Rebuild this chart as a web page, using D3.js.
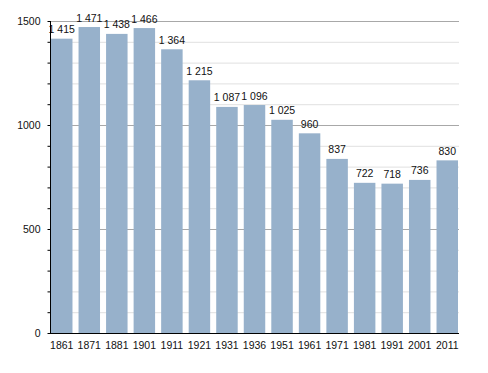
<!DOCTYPE html>
<html><head><meta charset="utf-8">
<script src="https://cdn.jsdelivr.net/npm/d3@7"></script>
<style>body{margin:0;background:#fff}svg{display:block}text{font-family:"Liberation Sans",Arial,sans-serif}</style>
</head><body><svg id="c" width="488" height="373"></svg>
<script>
const years = ["1861","1871","1881","1901","1911","1921","1931","1936","1951","1961","1971","1981","1991","2001","2011"];
const population = [1415,1471,1438,1466,1364,1215,1087,1096,1025,960,837,722,718,736,830];
const yTicks = [0,500,1000,1500];

const svg = d3.select("#c");
const x = d3.scaleBand().domain(years).range([51,458]).paddingInner(0.22).paddingOuter(0);
const y = d3.scaleLinear().domain([0,1500]).range([333,21]);
const minor = d3.range(100,1500,100).filter(v=>v%500!==0);

svg.append("g").selectAll("line").data(minor).join("line")
  .attr("x1",50).attr("x2",459).attr("y1",d=>y(d)+0.5).attr("y2",d=>y(d)+0.5)
  .attr("stroke","#e0e0e0").attr("stroke-width",1);
svg.append("g").selectAll("line").data([500,1000,1500]).join("line")
  .attr("x1",50).attr("x2",459).attr("y1",d=>y(d)+0.5).attr("y2",d=>y(d)+0.5)
  .attr("stroke","#a8a8a8").attr("stroke-width",1);

svg.append("g").selectAll("rect").data(population).join("rect")
  .attr("x",(d,i)=>x(years[i])).attr("width",x.bandwidth())
  .attr("y",d=>y(d)).attr("height",d=>y(0)-y(d)).attr("fill","#97b1cb");

const fmt = v => { const s = String(v); return s.length>3 ? s.slice(0,-3)+" "+s.slice(-3) : s; };
svg.append("g").selectAll("text").data(population).join("text")
  .attr("x",(d,i)=>x(years[i])+x.bandwidth()/2).attr("y",d=>y(d)-5.5)
  .attr("text-anchor","middle").attr("font-size",10.5).attr("fill","#111")
  .attr("xml:space","preserve").style("white-space","pre")
  .text(d=>fmt(d));

// y axis
const ya = d3.axisLeft(y).tickValues(d3.range(0,1501,100)).tickSize(3)
  .tickFormat(d=>yTicks.includes(d)?d:"");
const gy = svg.append("g").attr("transform","translate(50.5,0)").call(ya);
gy.select(".domain").attr("stroke","#000").attr("d","M0,"+y(1500)+"V"+(y(0)+0.5));
gy.selectAll("text").attr("font-size",10.5).attr("fill","#111").attr("font-family","Liberation Sans, Arial, sans-serif").attr("dx",-4);
gy.selectAll(".tick line").attr("stroke","#000");

// x axis
const xa = d3.axisBottom(x).tickSize(0);
const gx = svg.append("g").attr("transform","translate(0,333.5)").call(xa);
gx.select(".domain").attr("stroke","#000").attr("d","M50,0H459");
gx.selectAll("text").attr("font-size",10.5).attr("fill","#111").attr("font-family","Liberation Sans, Arial, sans-serif").attr("y",15.5).attr("dy",0);
</script></body></html>
